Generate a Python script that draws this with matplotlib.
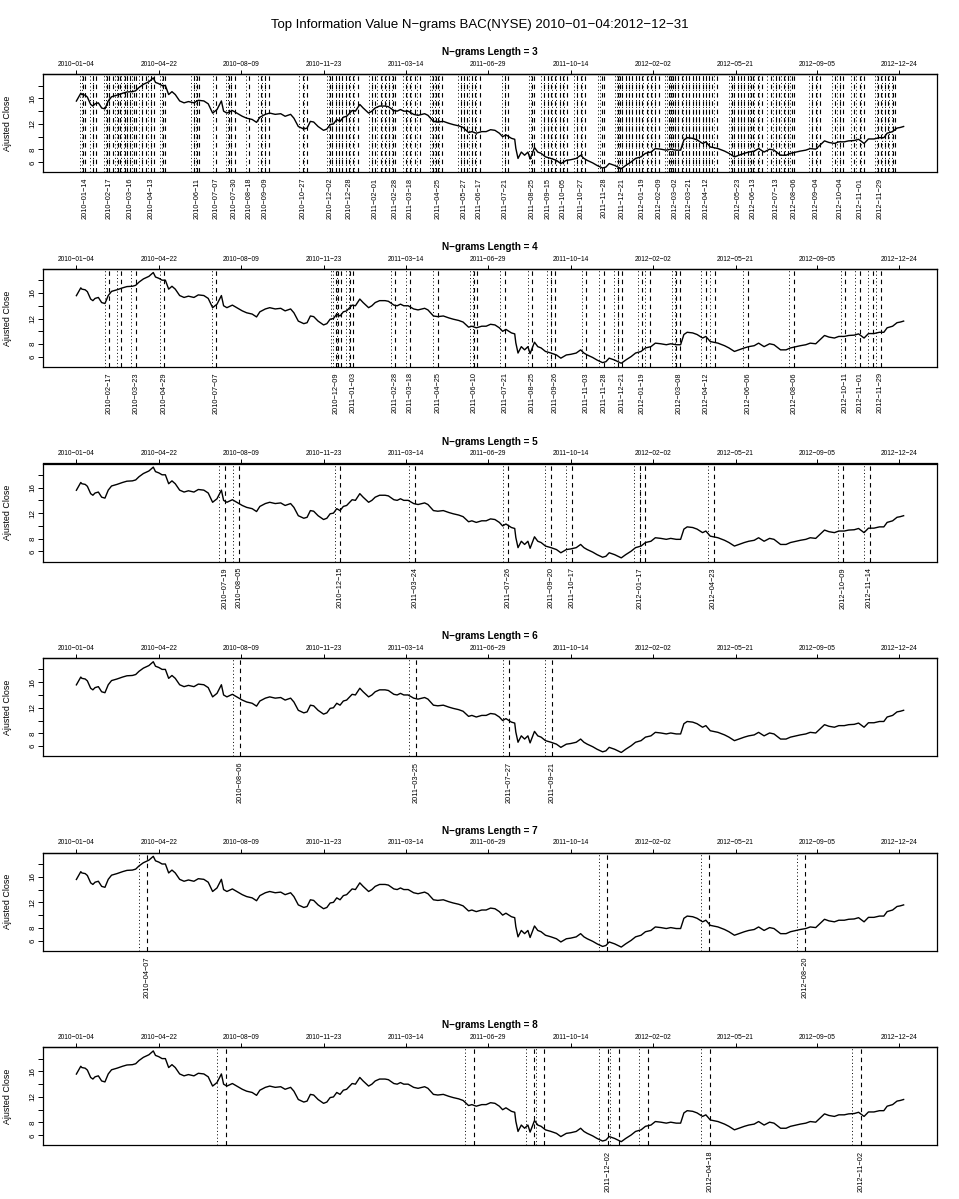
import numpy as np
import matplotlib
matplotlib.use("Agg")
import matplotlib.pyplot as plt

plt.rcParams["font.family"] = ["Liberation Sans", "DejaVu Sans"]

MINUS = "\u2212"

# NYSE closed days (besides weekends), 2010-2012
holidays = [
    "2010-01-01", "2010-01-18", "2010-02-15", "2010-04-02", "2010-05-31",
    "2010-07-05", "2010-09-06", "2010-11-25", "2010-12-24",
    "2011-01-17", "2011-02-21", "2011-04-22", "2011-05-30", "2011-07-04",
    "2011-09-05", "2011-11-24", "2011-12-26",
    "2012-01-02", "2012-01-16", "2012-02-20", "2012-04-06", "2012-05-28",
    "2012-07-04", "2012-09-03", "2012-10-29", "2012-10-30", "2012-11-22",
    "2012-12-25",
]

# BAC adjusted close (trading day number, price)
day = [0, 4, 5, 8, 10, 13, 15, 17, 20, 23, 26, 29, 32, 37, 42, 46, 51, 54, 57, 61,
       66, 70, 72, 75, 78, 81, 84, 87, 90, 94, 98, 102, 107, 111, 116, 120, 124, 128,
       132, 134, 137, 142, 146, 151, 155, 160, 164, 167, 172, 176, 181, 186, 190, 195,
       198, 202, 207, 210, 213, 216, 220, 225, 228, 231, 234, 237, 240, 243, 246, 251,
       254, 258, 261, 266, 269, 272, 276, 281, 284, 289, 292, 295, 298, 302, 307, 311,
       317, 320, 325, 329, 334, 339, 343, 348, 352, 357, 360, 364, 369, 373, 377, 381,
       385, 388, 391, 396, 399, 400, 402, 405, 408, 411, 413, 417, 420, 423, 427, 432,
       437, 441, 446, 450, 455, 459, 462, 465, 470, 474, 479, 482, 485, 490, 496, 500,
       505, 509, 514, 518, 523, 527, 532, 537, 541, 546, 550, 553, 556, 561, 565, 570,
       573, 577, 584, 590, 594, 599, 603, 608, 612, 617, 621, 626, 631, 635, 641, 646,
       650, 655, 659, 664, 668, 673, 677, 681, 685, 690, 694, 699, 703, 708, 712, 717,
       721, 726, 731, 735, 738, 743, 747, 750, 753]
close = [15.58, 16.8, 16.6, 16.5, 16.2, 15.05, 14.8, 15.15, 15.3, 14.5, 14.35, 15.6,
         16.25, 16.5, 16.8, 17.0, 17.05, 17.2, 17.7, 18.2, 18.6, 19.2, 18.5, 18.3, 18.0,
         18.0, 16.6, 17.05, 16.6, 15.6, 15.3, 15.5, 15.3, 15.7, 15.6, 15.15, 13.7, 14.25,
         15.6, 14.0, 13.7, 14.1, 13.7, 13.2, 12.9, 12.7, 12.25, 13.05, 13.5, 13.7, 13.5,
         13.6, 13.2, 13.5, 12.9, 11.6, 11.2, 11.35, 12.4, 12.3, 11.6, 11.0, 11.2, 11.9,
         12.0, 12.7, 12.4, 13.05, 13.2, 14.1, 14.0, 15.05, 14.5, 13.7, 14.0, 14.5, 14.8,
         14.8, 14.7, 14.1, 14.0, 14.25, 14.0, 14.0, 13.5, 13.35, 13.6, 13.35, 12.4, 12.3,
         12.4, 12.1, 11.9, 11.7, 11.45, 10.65, 10.8, 10.55, 10.8, 10.8, 11.1, 11.0, 10.55,
         10.0, 10.3, 9.75, 9.6, 8.2, 6.6, 7.6, 7.1, 7.6, 6.5, 8.3, 7.6, 7.4, 6.85, 6.6,
         6.3, 5.8, 6.3, 6.4, 6.6, 7.1, 6.6, 6.3, 5.9, 5.5, 5.1, 5.25, 5.8, 5.5, 5.0, 5.5,
         6.05, 6.6, 6.85, 7.4, 7.6, 8.15, 8.05, 7.9, 8.05, 7.9, 7.9, 9.5, 9.85, 9.75, 9.5,
         8.95, 9.2, 8.4, 8.15, 7.75, 7.4, 6.85, 7.1, 7.4, 7.6, 7.75, 8.15, 7.6, 8.05, 7.9,
         7.1, 7.1, 7.4, 7.6, 7.75, 7.9, 8.15, 8.05, 8.7, 9.35, 9.1, 8.95, 9.2, 9.2, 9.35,
         9.4, 9.6, 8.95, 9.65, 9.65, 9.85, 9.85, 10.55, 10.8, 11.35, 11.45, 11.6]

top_dates = ["2010-01-04", "2010-04-22", "2010-08-09", "2010-11-23", "2011-03-14",
             "2011-06-29", "2011-10-14", "2012-02-02", "2012-05-21", "2012-09-05",
             "2012-12-24"]

y_ticks = [6, 8, 10, 12, 14, 16, 18]
y_labels = ["6", "8", "", "12", "", "16", ""]

lengths = [3, 4, 5, 6, 7, 8]

# n-gram end dates with a label under the panel
labeled = {
    3: ["2010-01-14", "2010-02-17", "2010-03-16", "2010-04-13", "2010-06-11",
        "2010-07-07", "2010-07-30", "2010-08-18", "2010-09-09", "2010-10-27",
        "2010-12-02", "2010-12-28", "2011-02-01", "2011-02-28", "2011-03-18",
        "2011-04-25", "2011-05-27", "2011-06-17", "2011-07-21", "2011-08-25",
        "2011-09-15", "2011-10-05", "2011-10-27", "2011-11-28", "2011-12-21",
        "2012-01-19", "2012-02-09", "2012-03-02", "2012-03-21", "2012-04-12",
        "2012-05-23", "2012-06-13", "2012-07-13", "2012-08-06", "2012-09-04",
        "2012-10-04", "2012-11-01", "2012-11-29"],
    4: ["2010-02-17", "2010-03-23", "2010-04-29", "2010-07-07", "2010-12-09",
        "2011-01-03", "2011-02-28", "2011-03-18", "2011-04-25", "2011-06-10",
        "2011-07-21", "2011-08-25", "2011-09-26", "2011-11-03", "2011-11-28",
        "2011-12-21", "2012-01-19", "2012-03-08", "2012-04-12", "2012-06-06",
        "2012-08-06", "2012-10-11", "2012-11-01", "2012-11-29"],
    5: ["2010-07-19", "2010-08-05", "2010-12-15", "2011-03-24", "2011-07-26",
        "2011-09-20", "2011-10-17", "2012-01-17", "2012-04-23", "2012-10-09",
        "2012-11-14"],
    6: ["2010-08-06", "2011-03-25", "2011-07-27", "2011-09-21"],
    7: ["2010-04-07", "2012-08-20"],
    8: ["2011-12-02", "2012-04-18", "2012-11-02"],
}

# n-gram end dates whose labels were dropped
extra = {
    3: ["2010-01-12", "2010-01-26", "2010-01-29",
        "2010-02-12", "2010-02-22", "2010-03-01",
        "2010-03-03", "2010-03-09", "2010-03-11", "2010-03-19",
        "2010-03-23", "2010-03-31", "2010-04-06",
        "2010-04-16", "2010-04-28", "2010-04-30", "2010-06-08",
        "2010-06-15", "2010-07-23", "2010-07-27",
        "2010-09-02", "2010-09-14",
        "2010-11-02", "2010-12-06", "2010-12-09", "2010-12-14", "2010-12-17",
        "2010-12-22", "2011-01-03", "2011-01-07", "2011-01-27", "2011-02-08",
        "2011-02-14", "2011-02-18", "2011-02-24", "2011-03-14", "2011-03-24",
        "2011-03-31", "2011-04-18", "2011-04-20", "2011-04-29", "2011-05-24",
        "2011-06-02", "2011-06-08", "2011-06-13", "2011-07-26", "2011-08-29",
        "2011-09-12", "2011-09-20", "2011-09-26", "2011-09-30", "2011-10-11",
        "2011-10-24", "2011-11-02", "2011-11-23", "2011-12-15", "2011-12-19",
        "2011-12-27", "2011-12-30", "2012-01-05", "2012-01-10", "2012-01-13",
        "2012-01-25", "2012-01-31", "2012-02-06", "2012-02-23", "2012-02-27",
        "2012-02-29", "2012-03-07", "2012-03-12", "2012-03-16", "2012-03-26",
        "2012-03-29", "2012-04-03", "2012-04-09", "2012-04-17", "2012-04-20",
        "2012-04-26", "2012-05-16", "2012-05-18", "2012-05-29", "2012-06-01",
        "2012-06-06", "2012-06-11", "2012-06-19", "2012-06-25", "2012-07-06",
        "2012-07-18", "2012-07-24", "2012-07-30", "2012-08-02", "2012-08-29",
        "2012-09-10", "2012-09-28", "2012-10-09", "2012-10-23", "2012-11-07",
        "2012-11-27", "2012-12-05", "2012-12-10", "2012-12-14", "2012-12-18"],
    4: ["2010-03-04", "2010-12-13", "2010-12-16", "2010-12-29", "2011-06-15",
        "2011-09-20", "2011-12-15", "2012-01-30", "2012-03-05", "2012-04-24",
        "2012-11-19"],
    5: ["2012-01-24"],
    6: [],
    7: ["2011-12-01", "2012-04-17"],
    8: ["2010-07-20", "2011-06-10", "2011-08-29", "2011-09-12", "2011-12-16",
        "2012-01-26"],
}


def tday(d):
    # trading day number counted from the first day of the series
    return int(np.busday_count("2010-01-04", d, holidays=holidays))


def rdate(s):
    return s.replace("-", MINUS)


W, H = 959, 1199
fig = plt.figure(figsize=(W / 100, H / 100), dpi=100)
fig.text(0.5, 1 - 25 / H,
         f"Top Information Value N{MINUS}grams BAC(NYSE) {rdate('2010-01-04')}:{rdate('2012-12-31')}",
         ha="center", va="center", fontsize=9.5)

left, width, height = 43.3, 893.4, 98.0
for i, n in enumerate(lengths):
    top = 74.3 + 194.6 * i
    ax = fig.add_axes([left / W, 1 - (top + height) / H, width / W, height / H])

    ax.plot(day, close, color="black", lw=1.0, zorder=3)

    for d in labeled[n] + extra[n]:
        x = tday(d)
        ax.axvline(x - n, color="black", lw=0.7, ls=(0, (1, 2.5)))
        ax.axvline(x, color="black", lw=0.8, ls=(0, (4, 3.5)))

    ax.margins(x=0.04, y=0.04)

    # y axis
    ax.set_yticks(y_ticks, y_labels)
    ax.tick_params(axis="y", labelrotation=90, labelsize=5.8, length=3.5,
                   width=0.7, pad=1.5)
    for lab in ax.get_yticklabels():
        lab.set_va("center")
    ax.set_ylabel("Ajusted Close", fontsize=6.4)
    ax.yaxis.set_label_coords(-(left - 12) / width, 0.5)

    # dates of the n-gram ends under the panel
    ax.set_xticks([tday(d) for d in labeled[n]], [rdate(d) for d in labeled[n]],
                  rotation=90)
    ax.tick_params(axis="x", length=0, pad=4, labelsize=5.3)

    # regular date ticks on top
    sec = ax.secondary_xaxis("top")
    sec.set_xticks([tday(d) for d in top_dates], [rdate(d) for d in top_dates])
    sec.tick_params(length=3, width=0.7, labelsize=4.8, pad=1.5)
    sec.spines["top"].set_linewidth(0.9)

    for sp in ax.spines.values():
        sp.set_linewidth(0.9)

    ax.annotate(f"N{MINUS}grams Length = {n}", xy=(0.5, 1), xycoords="axes fraction",
                xytext=(0, 15.8), textcoords="offset points", ha="center",
                va="center", fontsize=7.2, fontweight="bold")

fig.savefig("out.png", dpi=100)
